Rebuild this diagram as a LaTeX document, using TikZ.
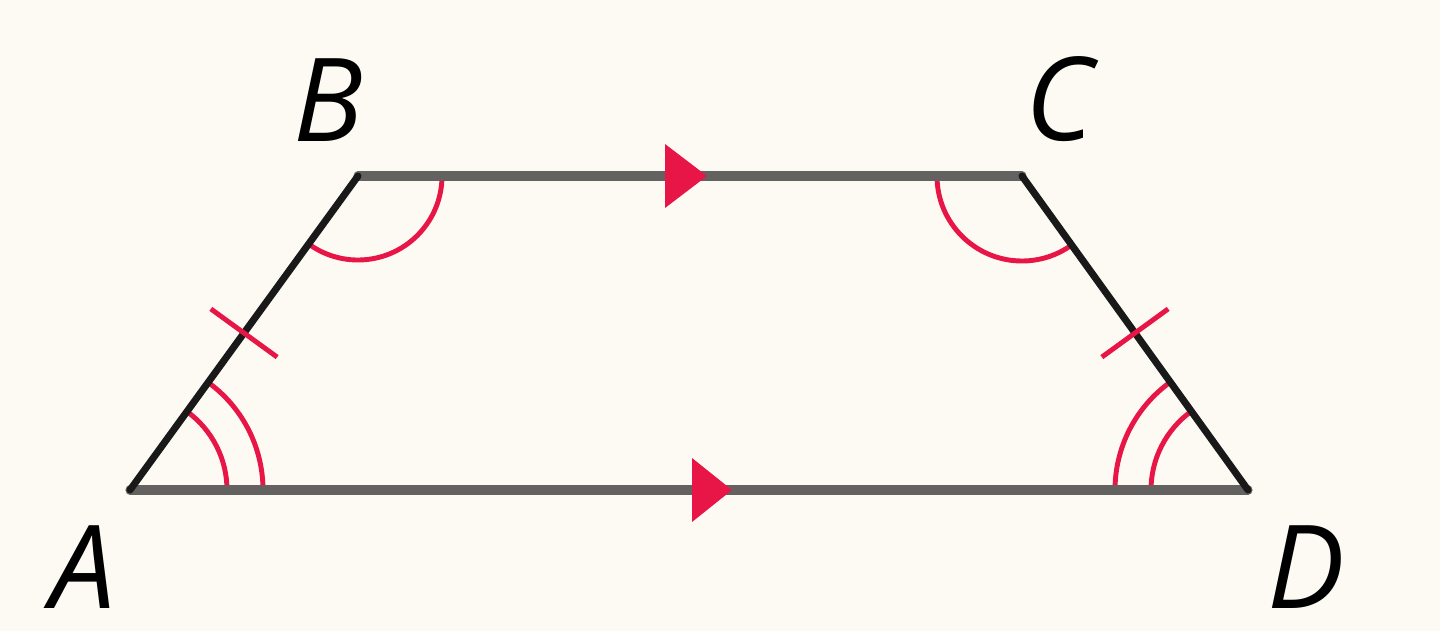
\documentclass[tikz,border=0pt]{standalone}
\usepackage{fontspec}
\newfontfamily\labelfont{Open Sans}
\definecolor{paper}{RGB}{253,250,243}
\definecolor{markred}{RGB}{232,22,70}
\definecolor{edge}{RGB}{100,98,96}
\begin{document}
\begin{tikzpicture}[>=latex, font=\labelfont\itshape\fontsize{33}{38}\selectfont]
\fill[paper] (0,0) rectangle (14.4,6.31);
\useasboundingbox (0,0) rectangle (14.4,6.31);
\coordinate (A) at (1.30,1.41);
\coordinate (B) at (3.58,4.55);
\coordinate (C) at (10.22,4.55);
\coordinate (D) at (12.48,1.41);

% angle marks
\draw[markred, line width=1.4pt] (B) ++(234:0.84) arc[start angle=234, end angle=360, radius=0.84];
\draw[markred, line width=1.4pt] (C) ++(180:0.85) arc[start angle=180, end angle=305.7, radius=0.85];
\foreach \r in {0.97,1.33}
{
	\draw[markred, line width=1.4pt] (A) ++(0:\r) arc[start angle=0, end angle=54, radius=\r];
	\draw[markred, line width=1.4pt] (D) ++(125.7:\r) arc[start angle=125.7, end angle=180, radius=\r];
}

% sides
\draw[edge, line width=2.6pt, line cap=round] (B)--(C);
\draw[edge, line width=2.6pt, line cap=round] (A)--(D);
\draw[black!90, line width=2pt, line cap=round, line join=round] (A)--(B) coordinate[pos=.5](mAB);
\draw[black!90, line width=2pt, line cap=round, line join=round] (C)--(D) coordinate[pos=.5](mCD);

% equal sides
\draw[markred, line width=1.4pt] (mAB) ++(144:0.41)--++(-36:0.82);
\draw[markred, line width=1.4pt] (mCD) ++(36:0.41)--++(216:0.82);

% parallel arrows
\fill[markred] (6.65,4.87)--(7.07,4.55)--(6.65,4.23)--cycle;
\fill[markred] (6.92,1.73)--(7.32,1.41)--(6.92,1.09)--cycle;

\node[inner sep=0pt] (lA) at (0.83,0.64){A};
\node[inner sep=0pt] (lB) at (3.28,5.31){B};
\node[inner sep=0pt] (lC) at (10.60,5.32){C};
\node[inner sep=0pt] (lD) at (13.06,0.64){D};
\end{tikzpicture}
\end{document}
